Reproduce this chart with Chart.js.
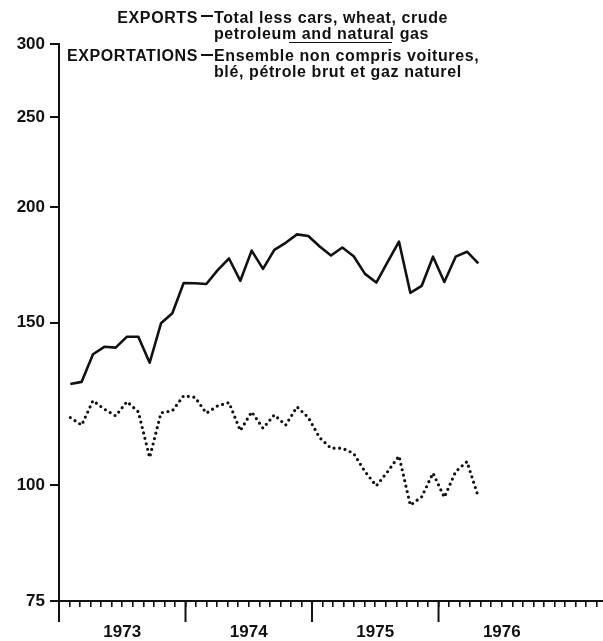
<!DOCTYPE html>
<html><head><meta charset="utf-8">
<script src="https://cdn.jsdelivr.net/npm/chart.js@4.4.1/dist/chart.umd.min.js"></script>
<style>
html,body{margin:0;padding:0;background:#fff;}
#wrap{position:relative;width:603px;height:641px;overflow:hidden;background:#fff;}
canvas{position:absolute;left:0;top:0;}
.t{position:absolute;font-family:"Liberation Sans",Arial,sans-serif;font-weight:bold;font-size:16px;line-height:16px;letter-spacing:0.6px;color:#111;white-space:nowrap;}
.r{text-align:right;}
.dash{position:absolute;height:0;border-top:2px solid #111;}
</style></head><body>
<div id="wrap">
<canvas id="c" width="603" height="641"></canvas>
<div class="t r" style="right:405px;top:10px">EXPORTS</div>
<div class="dash" style="left:201px;width:12px;top:15px"></div>
<div class="t" style="left:214px;top:10px">Total less cars, wheat, crude</div>
<div class="t" style="left:214px;top:26px">petroleum and natural gas</div>
<div class="dash" style="left:289px;width:103px;top:42px;border-top-width:1.5px"></div>
<div class="t r" style="right:405px;top:48px">EXPORTATIONS</div>
<div class="dash" style="left:201px;width:12px;top:54px"></div>
<div class="t" style="left:214px;top:48px">Ensemble non compris voitures,</div>
<div class="t" style="left:214px;top:64px">blé, pétrole brut et gaz naturel</div>
</div>
<script>
// Monthly observations, Jan 1973 .. Jan 1976
const months = [
 '1973-01','1973-02','1973-03','1973-04','1973-05','1973-06','1973-07','1973-08','1973-09','1973-10','1973-11','1973-12',
 '1974-01','1974-02','1974-03','1974-04','1974-05','1974-06','1974-07','1974-08','1974-09','1974-10','1974-11','1974-12',
 '1975-01','1975-02','1975-03','1975-04','1975-05','1975-06','1975-07','1975-08','1975-09','1975-10','1975-11','1975-12',
 '1976-01'];
const exportsSolid = [128.7,129.4,138.6,141.2,140.9,144.8,144.8,135.7,149.7,153.5,
 165.5,165.4,165.1,170.9,175.9,166.4,179.4,171.4,179.7,182.9,
 186.8,186.0,181.2,177.2,180.8,176.9,169.3,165.7,174.4,183.4,
 161.5,164.3,176.7,165.9,176.7,178.9,173.8];
const exportsDotted = [118.4,116.2,123.5,120.9,118.9,123.2,120.1,107.2,119.8,120.4,
 125.0,124.5,119.7,121.9,122.9,114.6,120.1,115.3,119.2,116.2,
 121.6,118.4,112.6,109.7,109.7,108.3,103.5,99.9,103.5,107.6,
 95.2,97.2,103.1,97.1,103.5,106.1,97.2];
const yTicks = [75,100,150,200,250,300];
const yearLabels = ['1973','1974','1975','1976'];

const toPoints = arr => arr.map((v,i)=>({x:i+1,y:v}));

const majorTicks = {
  id:'majorTicks',
  afterDraw(chart){
    const s = chart.scales.x, ctx = chart.ctx, a = chart.chartArea;
    ctx.save(); ctx.strokeStyle='#111'; ctx.lineWidth=2;
    for (let k=0;k<yearLabels.length;k++){
      const px = s.getPixelForValue(k*12);
      ctx.beginPath(); ctx.moveTo(px, a.bottom); ctx.lineTo(px, a.bottom+21); ctx.stroke();
    }
    ctx.restore();
  }
};

new Chart(document.getElementById('c'), {
  type:'line',
  data:{datasets:[
    {label:'EXPORTS', data:toPoints(exportsSolid), xAxisID:'xd', yAxisID:'y',
     borderColor:'#111', borderWidth:2.6, pointRadius:0, tension:0, fill:false, borderJoinStyle:'round'},
    {label:'EXPORTATIONS', data:toPoints(exportsDotted), xAxisID:'xd', yAxisID:'y',
     borderColor:'#111', borderWidth:3.2, borderDash:[0,5.6], borderCapStyle:'round', pointRadius:0, tension:0, fill:false}
  ]},
  options:{
    responsive:false, animation:false, devicePixelRatio:1,
    layout:{padding:{top:44,left:0,right:0,bottom:0}},
    plugins:{legend:{display:false}, tooltip:{enabled:false}},
    scales:{
      xd:{type:'linear', display:false, min:0, max:48},
      x:{type:'linear', position:'bottom', min:0, max:51.6,
         afterBuildTicks:s=>{const t=[];for(let m=0;m<=51;m++)t.push({value:m});s.ticks=t;},
         afterFit:s=>{s.height=40; s.paddingLeft=0; s.paddingRight=0;},
         grid:{drawOnChartArea:false, drawTicks:true, tickLength:6, color:'#111', lineWidth:1.6},
         border:{display:true, color:'#111', width:2},
         ticks:{autoSkip:false, maxRotation:0, padding:15, color:'#111',
           font:{family:'"Liberation Sans", Arial, sans-serif', weight:'bold', size:17},
           callback:v=>{ const r=v-6; return (r>=0 && r%12===0) ? (yearLabels[r/12]||'') : ''; }}
      },
      y:{type:'logarithmic', position:'left', min:75, max:300,
         afterBuildTicks:s=>{s.ticks=yTicks.map(v=>({value:v}));},
         afterFit:s=>{s.width=59;},
         grid:{drawOnChartArea:false, drawTicks:true, tickLength:9, color:'#111', lineWidth:2},
         border:{display:true, color:'#111', width:2},
         ticks:{padding:5, color:'#111',
           font:{family:'"Liberation Sans", Arial, sans-serif', weight:'bold', size:17},
           callback:v=>String(v)}
      }
    }
  },
  plugins:[majorTicks]
});
</script>
</body></html>
